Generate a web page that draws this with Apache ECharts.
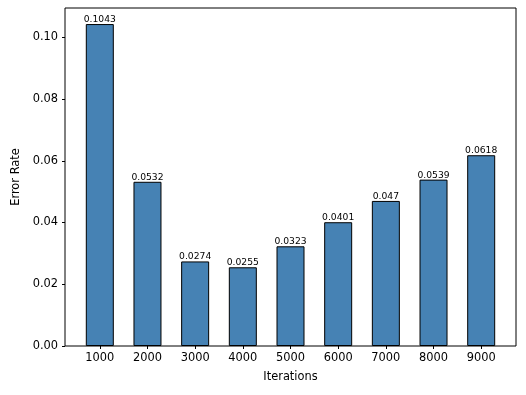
<!DOCTYPE html>
<html>
<head>
<meta charset="utf-8">
<script src="https://cdn.jsdelivr.net/npm/echarts@6/dist/echarts.min.js"></script>
<style>
  html, body { margin: 0; padding: 0; background: #fff; }
  #chart { width: 526px; height: 395px; }
</style>
</head>
<body>
<div id="chart"></div>
<script>
// data
const iterations = [1000, 2000, 3000, 4000, 5000, 6000, 7000, 8000, 9000];
const errorRates = [0.1043, 0.0532, 0.0274, 0.0255, 0.0323, 0.0401, 0.047, 0.0539, 0.0618];
const yTicks = [0, 0.02, 0.04, 0.06, 0.08, 0.10];

const myChart = echarts.init(document.getElementById('chart'));

const font = 'DejaVu Sans';

const option = {
    animation: false,
    grid: {
        left: 65,
        right: 10,
        top: 8,
        bottom: 49,
        show: true,
        borderColor: '#000',
        borderWidth: 1
    },
    xAxis: {
        type: 'value',
        min: 270,
        max: 9730,
        name: 'Iterations',
        nameLocation: 'middle',
        nameGap: 26,
        nameTextStyle: { fontFamily: font, fontSize: 11.4, color: '#000' },
        splitLine: { show: false },
        axisLine: { show: false },
        axisTick: {
            show: true,
            length: 3,
            lineStyle: { color: '#000' },
            customValues: iterations
        },
        axisLabel: {
            fontFamily: font,
            fontSize: 11.4,
            color: '#000',
            margin: 7,
            customValues: iterations,
            formatter: v => String(v)
        }
    },
    yAxis: {
        type: 'value',
        min: 0,
        max: 0.1095,
        interval: 0.02,
        name: 'Error Rate',
        nameLocation: 'middle',
        nameGap: 43,
        nameTextStyle: { fontFamily: font, fontSize: 11.4, color: '#000' },
        splitLine: { show: false },
        axisLine: { show: false },
        axisTick: {
            show: true,
            length: 3,
            lineStyle: { color: '#000' },
            customValues: yTicks
        },
        axisLabel: {
            fontFamily: font,
            fontSize: 11.4,
            color: '#000',
            margin: 7,
            customValues: yTicks,
            formatter: v => v.toFixed(2)
        }
    },
    series: [{
        type: 'bar',
        data: iterations.map((x, i) => [x, errorRates[i]]),
        barWidth: 28,
        itemStyle: {
            color: '#4682B4',
            borderColor: '#000',
            borderWidth: 1
        },
        label: {
            show: true,
            position: 'top',
            distance: 0,
            fontFamily: font,
            fontSize: 9.2,
            color: '#000',
            formatter: p => String(errorRates[p.dataIndex])
        }
    }]
};

myChart.setOption(option);
</script>
</body>
</html>
